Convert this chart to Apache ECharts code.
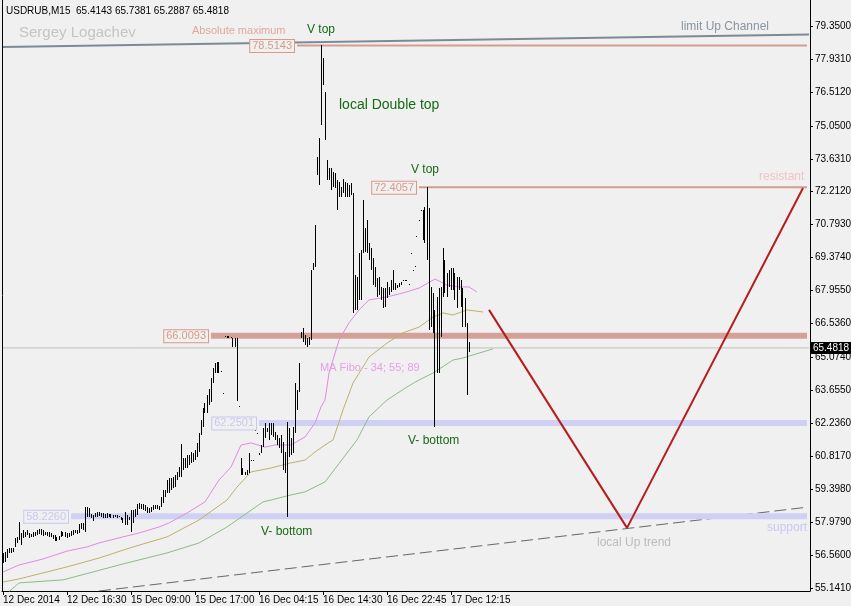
<!DOCTYPE html>
<html><head><meta charset="utf-8">
<script src="https://cdn.jsdelivr.net/npm/echarts@6/dist/echarts.min.js"></script>
<style>html,body{margin:0;padding:0;background:#f0f0f0;}#c{width:851px;height:606px;}</style>
</head><body><div id="c"></div>
<script>
// ---------- data ----------
const symbolName = 'USDRUB,M15';
const lastOHLC = [65.4143, 65.7381, 65.2887, 65.4818];
const timeLabels = ['12 Dec 2014','12 Dec 16:30','15 Dec 09:00','15 Dec 17:00','16 Dec 04:15','16 Dec 14:30','16 Dec 22:45','17 Dec 12:15'];
const barsPerLabel = 32;
const categoryCount = 404;
const priceTicks = [55.141,56.560,57.979,59.398,60.817,62.236,63.655,65.074,66.536,67.955,69.374,70.793,72.212,73.631,75.050,76.512,77.931,79.350];
// [high, low] per M15 bar
const bars = [
[56.66,56.20],[56.71,56.28],[56.81,56.42],[56.85,56.63],[56.85,56.66],[56.85,56.71],[57.28,56.92],[57.35,57.07],[57.97,57.21],[57.52,56.99],
[57.64,57.28],[57.57,57.35],[57.64,57.42],[57.52,57.28],[57.47,57.32],[57.57,57.35],[57.57,57.38],[57.64,57.42],[57.67,57.47],[57.67,57.42],
[57.64,57.38],[57.57,57.42],[57.57,57.38],[57.57,57.35],[57.52,57.32],[57.42,57.24],[57.42,57.18],[57.35,57.18],[57.38,57.21],[57.61,57.35],
[57.57,57.38],[57.57,57.32],[57.50,57.28],[57.52,57.32],[57.61,57.38],[57.64,57.42],[57.64,57.50],[57.64,57.47],[57.90,57.52],[57.93,57.67],
[57.96,57.64],[58.64,57.57],[58.64,58.21],[58.57,58.21],[58.33,58.14],[58.29,58.04],[58.36,58.19],[58.40,58.21],[58.43,58.24],[58.36,58.19],
[58.36,58.14],[58.31,58.14],[58.36,58.14],[58.33,58.19],[58.31,58.14],[58.29,58.14],[58.29,58.19],[58.29,58.14],[58.24,58.21],[58.21,58.07],
[58.14,57.93],[58.43,57.86],[58.29,57.86],[58.21,58.07],[58.50,57.57],[58.50,57.93],[58.53,58.21],[58.76,58.29],[58.79,58.53],[58.76,58.53],
[58.76,58.50],[58.72,58.47],[58.64,58.39],[58.57,58.36],[58.64,58.43],[58.72,58.50],[58.72,58.53],[58.72,58.53],[58.67,58.50],[59.08,58.64],
[59.36,58.79],[59.36,59.08],[59.79,59.22],[59.87,59.22],[59.87,59.36],[59.94,59.43],[60.01,59.51],[60.15,59.79],[60.37,59.94],[61.34,59.94],
[60.73,60.22],[60.73,60.30],[60.87,60.30],[60.87,60.44],[61.01,60.51],[60.94,60.58],[61.09,60.66],[61.37,60.80],[61.80,61.01],[62.38,61.73],
[62.88,62.09],[63.10,62.67],[63.46,62.67],[63.70,63.02],[64.17,63.17],[64.60,63.96],[64.85,64.39],[64.89,64.42],[64.89,64.42],[64.47,64.45],
[63.54,63.52],[66.01,65.99],[66.00,65.92],[66.00,65.90],[65.97,65.90],[65.92,65.51],[65.92,65.51],[65.92,63.21],[62.99,62.97],[60.73,60.01],
[60.30,60.01],[60.15,60.01],[60.22,60.01],[60.94,60.08],[60.64,60.62],[60.64,60.62],[61.96,61.94],[61.81,61.79],[60.94,60.87],[61.30,60.94],
[62.02,61.23],[62.23,61.59],[62.02,61.88],[62.23,61.52],[62.23,61.73],[62.23,61.66],[61.88,61.52],[61.73,61.30],[61.59,61.16],[61.73,60.94],
[61.45,60.22],[61.01,60.08],[62.31,58.21],[62.02,60.80],[61.59,60.87],[62.09,60.94],[63.96,61.80],[63.67,62.81],[64.82,63.60],[66.18,65.90],
[66.33,65.75],[66.04,65.61],[65.90,65.54],[65.97,65.61],[68.84,65.82],[69.13,68.84],[70.78,68.98],[73.72,72.93],[74.53,72.50],[78.5143,75.10],
[77.96,76.81],[76.52,74.44],[73.58,72.72],[73.22,72.72],[73.22,72.29],[73.08,72.43],[73.00,72.36],[72.72,71.42],[72.64,72.00],[72.43,72.00],
[72.75,72.14],[72.64,72.00],[72.57,72.00],[72.50,72.00],[72.57,72.07],[72.14,66.97],[68.62,67.12],[68.55,67.12],[69.56,67.55],[69.70,67.55],
[71.86,69.56],[70.63,69.63],[70.99,69.56],[69.99,69.27],[69.77,68.84],[69.34,68.19],[68.98,68.12],[68.48,67.69],[68.55,67.76],[68.12,67.55],
[68.05,67.19],[68.05,67.26],[68.34,67.62],[68.12,67.76],[68.41,67.91],[68.84,67.98],[68.26,67.98],[68.19,68.05],[68.26,68.12],[68.34,68.19],
[68.39,68.37],[68.42,68.40],[68.39,68.37],[68.23,68.21],[69.57,69.55],[68.85,68.83],[68.99,68.97],[70.29,70.27],[71.00,70.98],[71.43,71.41],
[71.42,70.13],[71.57,69.99],[72.4057,69.27],[71.50,66.25],[68.12,66.40],[67.83,66.11],[67.12,62.09],[67.69,64.39],[68.05,64.39],[68.12,65.97],
[69.77,67.69],[69.27,67.83],[68.70,67.69],[68.84,68.12],[68.91,67.98],[68.91,67.98],[68.70,67.55],[68.55,67.19],[68.55,67.98],[68.41,67.26],
[68.05,66.40],[67.62,66.40],[66.54,63.46],[65.7381,65.2887]
];
// moving averages: [bar index, value]
const ma34 = [[0,55.83],[8,56.13],[20,56.39],[32,56.73],[42,56.91],[48,57.08],[58,57.30],[68,57.51],[78,57.77],[83,57.94],[92,58.37],[101,58.85],[108,59.79],[114,60.35],[119,61.30],[124,61.39],[131,61.21],[136,61.30],[144,61.30],[151,61.65],[156,62.25],[159,62.94],[161,63.24],[163,64.40],[168,65.82],[173,66.56],[178,67.12],[183,67.55],[192,67.68],[200,67.85],[208,68.06],[216,68.45],[222,68.19],[228,68.11],[233,68.11],[237,67.89]];
const ma55 = [[0,55.40],[8,55.53],[32,56.05],[48,56.43],[65,56.91],[82,57.34],[98,58.07],[112,58.93],[117,59.49],[124,60.14],[134,60.31],[144,60.53],[151,60.65],[156,61.00],[161,61.30],[165,61.52],[170,62.81],[175,63.97],[183,65.09],[192,65.69],[200,66.13],[208,66.38],[215,66.81],[220,66.99],[225,66.90],[232,67.12],[240,67.03]];
const ma89 = [[3,54.98],[8,55.36],[30,55.49],[62,56.22],[82,56.65],[98,57.08],[112,57.77],[122,58.37],[130,58.85],[134,58.93],[144,59.15],[151,59.28],[161,59.71],[177,61.52],[183,62.51],[192,63.24],[202,63.80],[208,64.10],[215,64.40],[225,64.96],[230,65.05],[238,65.26],[245,65.44]];
// horizontal price levels: [price, first bar index]
const levelMax = [78.5143, 147];
const levelTop2 = [72.4057, 208];
const levelRes = [66.0093, 104];
const levelSup1 = [62.2501, 128];
const levelSup2 = [58.2260, 34];
const lastBarIndex = 402;
const channelLine = [[0,78.44],[403,78.98]];
const upTrend = [[48,55.01],[402,58.62]];
const forecast = [[243,67.12],[312,57.73],[400,72.37]];

// ---------- chart ----------
const FONT = '"Liberation Sans", Arial, sans-serif';
const GREEN = '#136b13';
const SALMON = '#d49c90';
const LAVENDER = '#d0d0f5';
const cats = Array.from({length: categoryCount}, (_, i) =>
  (i % barsPerLabel === 0 && i / barsPerLabel < timeLabels.length) ? timeLabels[i / barsPerLabel] : '');
const showCat = (i, v) => v !== '';
const yMin = 55.011, yMax = 80.47;

function hLine(level, color, width, z) {
  return {type:'line', data:[[level[1], level[0]],[lastBarIndex, level[0]]], symbol:'none', silent:true, z:z||2,
    lineStyle:{color:color, width:width, cap:'butt'}, animation:false};
}
function polyLine(data, color, width, type, z) {
  return {type:'line', data:data, symbol:'none', silent:true, z:z||3,
    lineStyle:{color:color, width:width, type:type||'solid', cap:'butt'}, animation:false};
}

const chart = echarts.init(document.getElementById('c'), null, {renderer:'canvas'});
chart.setOption({
  backgroundColor:'#f0f0f0',
  animation:false,
  grid:{left:2, top:0, width:808, height:591, containLabel:false, outerBoundsMode:'none'},
  xAxis:{type:'category', data:cats, boundaryGap:true,
    axisLine:{show:true, onZero:false, lineStyle:{color:'#000', width:1}},
    axisTick:{show:true, alignWithLabel:true, interval:showCat, length:4, lineStyle:{color:'#000'}},
    axisLabel:{show:true, interval:showCat, align:'left', margin:4, color:'#000', fontSize:10, fontFamily:FONT},
    splitLine:{show:false}},
  yAxis:[
    {type:'value', position:'right', min:yMin, max:yMax,
     axisLine:{show:true, lineStyle:{color:'#000', width:1}},
     axisTick:{show:true, length:3, customValues:priceTicks, lineStyle:{color:'#000'}},
     axisLabel:{show:true, customValues:priceTicks, formatter:v => v.toFixed(4), color:'#000', fontSize:10, margin:5, fontFamily:FONT},
     splitLine:{show:false}},
    {type:'value', position:'left', min:yMin, max:yMax,
     axisLine:{show:true, lineStyle:{color:'#000', width:1}},
     axisTick:{show:false}, axisLabel:{show:false}, splitLine:{show:false}}
  ],
  series:[
    polyLine(upTrend, '#666666', 1, [12,5], 1),
    polyLine(channelLine, '#7c8a98', 2, 'solid', 2),
    hLine(levelMax, SALMON, 2),
    hLine(levelTop2, SALMON, 2),
    hLine(levelRes, '#d4a098', 6),
    hLine(levelSup1, LAVENDER, 6),
    hLine(levelSup2, LAVENDER, 6),
    {type:'line', data:[[0,lastOHLC[3]],[categoryCount-1,lastOHLC[3]]], symbol:'none', silent:true, z:2,
     lineStyle:{color:'#c0c0c0', width:1}},
    polyLine(ma34, '#e08ce0', 1),
    polyLine(ma55, '#bdb26a', 1),
    polyLine(ma89, '#8cbc84', 1),
    {type:'custom', z:5, silent:true, clip:true,
     data:bars.map((b, i) => [i, b[0], b[1]]),
     encode:{x:0, y:[1,2]},
     renderItem:function(params, api){
       const i = api.value(0);
       const hi = api.coord([i, api.value(1)]);
       const lo = api.coord([i, api.value(2)]);
       const top = Math.round(hi[1]);
       const bot = Math.round(lo[1]);
       return {type:'rect', shape:{x:Math.floor(hi[0]), y:top, width:1, height:Math.max(1, bot - top)},
               style:{fill:'#000'}};
     }},
    polyLine(forecast, '#b81c1c', 2, 'solid', 6)
  ]
});

// ---------- annotations ----------
const py = v => chart.convertToPixel({yAxisIndex:0}, v);
const px = i => chart.convertToPixel({xAxisIndex:0}, i);
function txt(t, x, y, size, color, align) {
  return {type:'text', silent:true, z:100, style:{text:t, x:x, y:y, fill:color, font:size + 'px ' + FONT,
    textAlign:align||'left', textVerticalAlign:'middle'}};
}
function boxLabel(level, color, gap) {
  const v = level[0];
  const xr = px(level[1]) - gap;
  return {type:'text', silent:true, z:100, style:{text:v.toFixed(4), x:xr, y:py(v) + 0.5, fill:color,
    font:'11px ' + FONT, textAlign:'right', textVerticalAlign:'middle',
    borderColor:color, borderWidth:1, padding:[1,2,0,2], backgroundColor:'#f0f0f0'}};
}
const title = symbolName + '  ' + lastOHLC.map(v => v.toFixed(4)).join(' ');
const yLast = Math.round(py(lastOHLC[3]));
chart.setOption({graphic:[
  txt(title, 6, 11, 10, '#000'),
  txt('Sergey Logachev', 19, 33, 15, '#c4c4c4'),
  txt('Absolute maximum', 192, 31, 11, '#e0a898'),
  txt('V top', 307, 30, 12, GREEN),
  txt('local Double top', 339, 105, 14, GREEN),
  txt('V top', 411, 170, 12, GREEN),
  txt('V- bottom', 408, 441, 12, GREEN),
  txt('V- bottom', 261, 532, 12, GREEN),
  txt('MA Fibo - 34; 55; 89', 320, 368, 11, '#e6a0e6'),
  txt('limit Up Channel', 681, 27, 12, '#8a94a0'),
  txt('resistant', 759, 177, 12, '#f0c4c4'),
  txt('support', 767, 528, 12, '#c8c8f4'),
  txt('local Up trend', 597, 543, 12, '#bcbcbc'),
  boxLabel(levelMax, '#d99a88', 3),
  boxLabel(levelTop2, '#d99a88', 3),
  boxLabel(levelRes, '#d99a88', 3),
  boxLabel(levelSup1, '#c8c8f0', 3),
  boxLabel(levelSup2, '#c8c8f0', 3),
  {type:'rect', silent:true, z:100, shape:{x:811, y:yLast - 6, width:40, height:12}, style:{fill:'#000'}},
  txt(lastOHLC[3].toFixed(4), 831, yLast, 10, '#fff', 'center')
]});
</script></body></html>
